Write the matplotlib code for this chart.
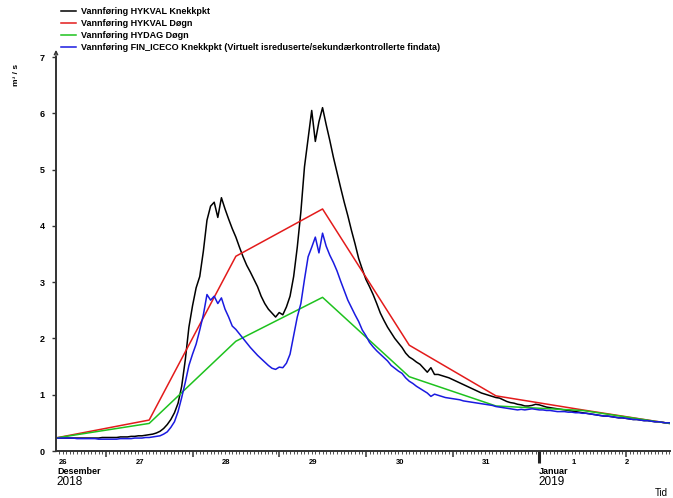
import numpy as np
import matplotlib
matplotlib.use('Agg')
import matplotlib.pyplot as plt

plt.rcParams['font.family'] = ['Liberation Sans', 'DejaVu Sans']

# ---------------- data ----------------
START_HOUR = 10  # hours after 26 Dec 2018 00:00 (hourly series)

hykval_knekkpkt = [
    0.23, 0.23, 0.23, 0.23, 0.23, 0.23, 0.23, 0.23, 0.23, 0.23,   # h10-19
    0.23, 0.23, 0.23, 0.24, 0.24, 0.24, 0.24, 0.24, 0.25, 0.25,   # h20-29
    0.25, 0.26, 0.26, 0.27, 0.27, 0.28, 0.29, 0.30, 0.32, 0.35,   # h30-39
    0.40, 0.47, 0.56, 0.68, 0.85, 1.15, 1.62, 2.20, 2.58, 2.90,   # h40-49
    3.10, 3.55, 4.10, 4.35, 4.42, 4.15, 4.50, 4.30, 4.12, 3.95,   # h50-59
    3.80, 3.62, 3.45, 3.30, 3.18, 3.05, 2.92, 2.75, 2.62, 2.52,   # h60-69
    2.45, 2.38, 2.46, 2.42, 2.56, 2.75, 3.10, 3.62, 4.25, 5.05,   # h70-79
    5.55, 6.05, 5.50, 5.85, 6.10, 5.80, 5.52, 5.22, 4.95, 4.68,   # h80-89
    4.42, 4.18, 3.92, 3.68, 3.42, 3.23, 3.05, 2.92, 2.78, 2.62,   # h90-99
    2.45, 2.32, 2.20, 2.10, 2.00, 1.92, 1.84, 1.74, 1.67, 1.63,   # h100-109
    1.58, 1.54, 1.47, 1.40, 1.48, 1.36, 1.36, 1.34, 1.32, 1.30,   # h110-119
    1.27, 1.24, 1.21, 1.18, 1.15, 1.12, 1.09, 1.06, 1.03, 1.01,   # h120-129
    0.99, 0.97, 0.95, 0.94, 0.91, 0.88, 0.86, 0.85, 0.83, 0.82,   # h130-139
    0.80, 0.80, 0.81, 0.83, 0.82, 0.80, 0.78, 0.77, 0.76, 0.75,   # h140-149
    0.74, 0.73, 0.72, 0.71, 0.70, 0.69, 0.68, 0.67, 0.66, 0.65,   # h150-159
    0.64, 0.63, 0.62, 0.62, 0.61, 0.60, 0.59, 0.59, 0.58, 0.57,   # h160-169
    0.56, 0.56, 0.55, 0.54, 0.54, 0.53, 0.52, 0.52, 0.51, 0.50,   # h170-179
    0.50,                                                         # h180
]

fin_iceco_knekkpkt = [
    0.23, 0.23, 0.23, 0.23, 0.23, 0.23, 0.22, 0.22, 0.22, 0.22,   # h10-19
    0.22, 0.22, 0.21, 0.21, 0.21, 0.21, 0.21, 0.21, 0.22, 0.22,   # h20-29
    0.22, 0.22, 0.23, 0.23, 0.23, 0.24, 0.24, 0.25, 0.26, 0.27,   # h30-39
    0.30, 0.34, 0.42, 0.52, 0.70, 0.95, 1.22, 1.52, 1.72, 1.90,   # h40-49
    2.15, 2.42, 2.78, 2.68, 2.75, 2.62, 2.72, 2.52, 2.38, 2.22,   # h50-59
    2.16, 2.08, 2.00, 1.92, 1.84, 1.77, 1.70, 1.64, 1.58, 1.52,   # h60-69
    1.47, 1.45, 1.49, 1.48, 1.56, 1.72, 2.05, 2.38, 2.62, 3.05,   # h70-79
    3.45, 3.62, 3.80, 3.52, 3.87, 3.64, 3.48, 3.35, 3.20, 3.02,   # h80-89
    2.85, 2.68, 2.55, 2.42, 2.30, 2.15, 2.05, 1.93, 1.85, 1.78,   # h90-99
    1.72, 1.66, 1.60, 1.52, 1.47, 1.42, 1.38, 1.30, 1.24, 1.20,   # h100-109
    1.15, 1.11, 1.07, 1.03, 0.97, 1.01, 0.99, 0.97, 0.95, 0.94,   # h110-119
    0.93, 0.92, 0.91, 0.89, 0.88, 0.87, 0.86, 0.85, 0.84, 0.83,   # h120-129
    0.82, 0.81, 0.79, 0.78, 0.77, 0.76, 0.75, 0.74, 0.73, 0.74,   # h130-139
    0.73, 0.74, 0.75, 0.74, 0.73, 0.73, 0.72, 0.72, 0.71, 0.70,   # h140-149
    0.70, 0.70, 0.69, 0.69, 0.68, 0.68, 0.67, 0.67, 0.66, 0.65,   # h150-159
    0.64, 0.63, 0.62, 0.62, 0.61, 0.60, 0.59, 0.59, 0.58, 0.57,   # h160-169
    0.56, 0.56, 0.55, 0.54, 0.54, 0.53, 0.52, 0.52, 0.51, 0.50,   # h170-179
    0.50,                                                         # h180
]

daily_hours = [10, 36, 60, 84, 108, 132, 156, 180]
hykval_dogn = [0.23, 0.55, 3.46, 4.30, 1.88, 0.98, 0.73, 0.49]
hydag_dogn = [0.23, 0.49, 1.95, 2.73, 1.32, 0.80, 0.72, 0.49]

day_labels = ['26', '27', '28', '29', '30', '31', '1', '2']
day_start_hours = [0, 24, 48, 72, 96, 120, 144, 168]
month_labels = ['Desember', 'Januar']
year_labels = ['2018', '2019']
month_start_hours = [10.5, 144]
y_ticks = [0, 1, 2, 3, 4, 5, 6, 7]

series_labels = [
    'Vannføring HYKVAL Knekkpkt',
    'Vannføring HYKVAL Døgn',
    'Vannføring HYDAG Døgn',
    'Vannføring FIN_ICECO Knekkpkt (Virtuelt isreduserte/sekundærkontrollerte findata)',
]
series_colors = ['#000000', '#e31b1b', '#1ec21e', '#1a1ae0']

# ---------------- figure ----------------
W, H = 673, 498
fig = plt.figure(figsize=(W / 100, H / 100), dpi=100)
ax = fig.add_axes([56 / W, (H - 451) / H, 614 / W, 394 / H])

hours = np.arange(START_HOUR, START_HOUR + len(hykval_knekkpkt))
hours_b = np.arange(START_HOUR, START_HOUR + len(fin_iceco_knekkpkt))

l1, = ax.plot(hours, hykval_knekkpkt, color=series_colors[0], lw=1.1)
l2, = ax.plot(daily_hours, hykval_dogn, color=series_colors[1], lw=1.1)
l3, = ax.plot(daily_hours, hydag_dogn, color=series_colors[2], lw=1.1)
l4, = ax.plot(hours_b, fin_iceco_knekkpkt, color=series_colors[3], lw=1.1)

xmin, xmax = 10.2, 180.2
ax.set_xlim(xmin, xmax)
ax.set_ylim(0, 7)

for s in ['top', 'right']:
    ax.spines[s].set_visible(False)
for s in ['left', 'bottom']:
    ax.spines[s].set_color('#333333')
    ax.spines[s].set_linewidth(1.4)

ax.set_yticks(y_ticks)
ax.set_yticklabels([str(v) for v in y_ticks], fontsize=6.5, fontweight='bold')
ax.tick_params(axis='y', direction='out', length=3, width=1.0, color='#333333', pad=5)

ax.set_xticks(day_start_hours[1:])
ax.set_xticklabels([])
ax.set_xticks(np.arange(11, 181, 1), minor=True)
ax.tick_params(axis='x', which='major', direction='out', length=4, width=1.1, color='#333333')
ax.tick_params(axis='x', which='minor', direction='out', length=2.2, width=0.6, color='#333333')

# month boundary tick (thick)
xt = ax.get_xaxis_transform()
ax.plot([144, 144], [0, -12 / 394], transform=xt, color='#222222', lw=2.2,
        clip_on=False, solid_capstyle='butt')

# y-axis arrow
ax.annotate('', xy=(0, 1.018), xytext=(0, 0.995), xycoords='axes fraction',
            arrowprops=dict(arrowstyle='->', lw=1.0, color='#333333',
                            mutation_scale=6, shrinkA=0, shrinkB=0))

# day labels
narrow = ['Liberation Sans Narrow', 'Liberation Sans', 'DejaVu Sans']
for lab, st in zip(day_labels, day_start_hours):
    pos = min(max(st + 9.4, xmin + 1.9), xmax - 12)
    ax.text(pos, -11 / 394, lab, transform=xt, ha='center', va='center',
            fontsize=5.5, fontweight='bold', family=narrow)

for mlab, ylab, st in zip(month_labels, year_labels, month_start_hours):
    ax.text(st, -20 / 394, mlab, transform=xt, ha='left', va='center',
            fontsize=6.5, fontweight='bold', family=narrow)
    ax.text(st - 0.3, -31 / 394, ylab, transform=xt, ha='left', va='center',
            fontsize=8.5, family=narrow)

fig.text(668 / W, 1 - 493 / H, 'Tid', ha='right', va='center', fontsize=7, family=narrow)
fig.text(17 / W, 1 - 75 / H, 'm³ / s', rotation=90, ha='center', va='center',
         fontsize=6, fontweight='bold')

leg = fig.legend([l1, l2, l3, l4], series_labels, loc='upper left',
                 bbox_to_anchor=(61 / W, 1 - 7 / H), bbox_transform=fig.transFigure,
                 frameon=False, handlelength=1.7, handletextpad=0.55,
                 labelspacing=0.34, borderpad=0, borderaxespad=0,
                 prop={'weight': 'bold', 'size': 6.5})

fig.savefig('out.png', dpi=100)
